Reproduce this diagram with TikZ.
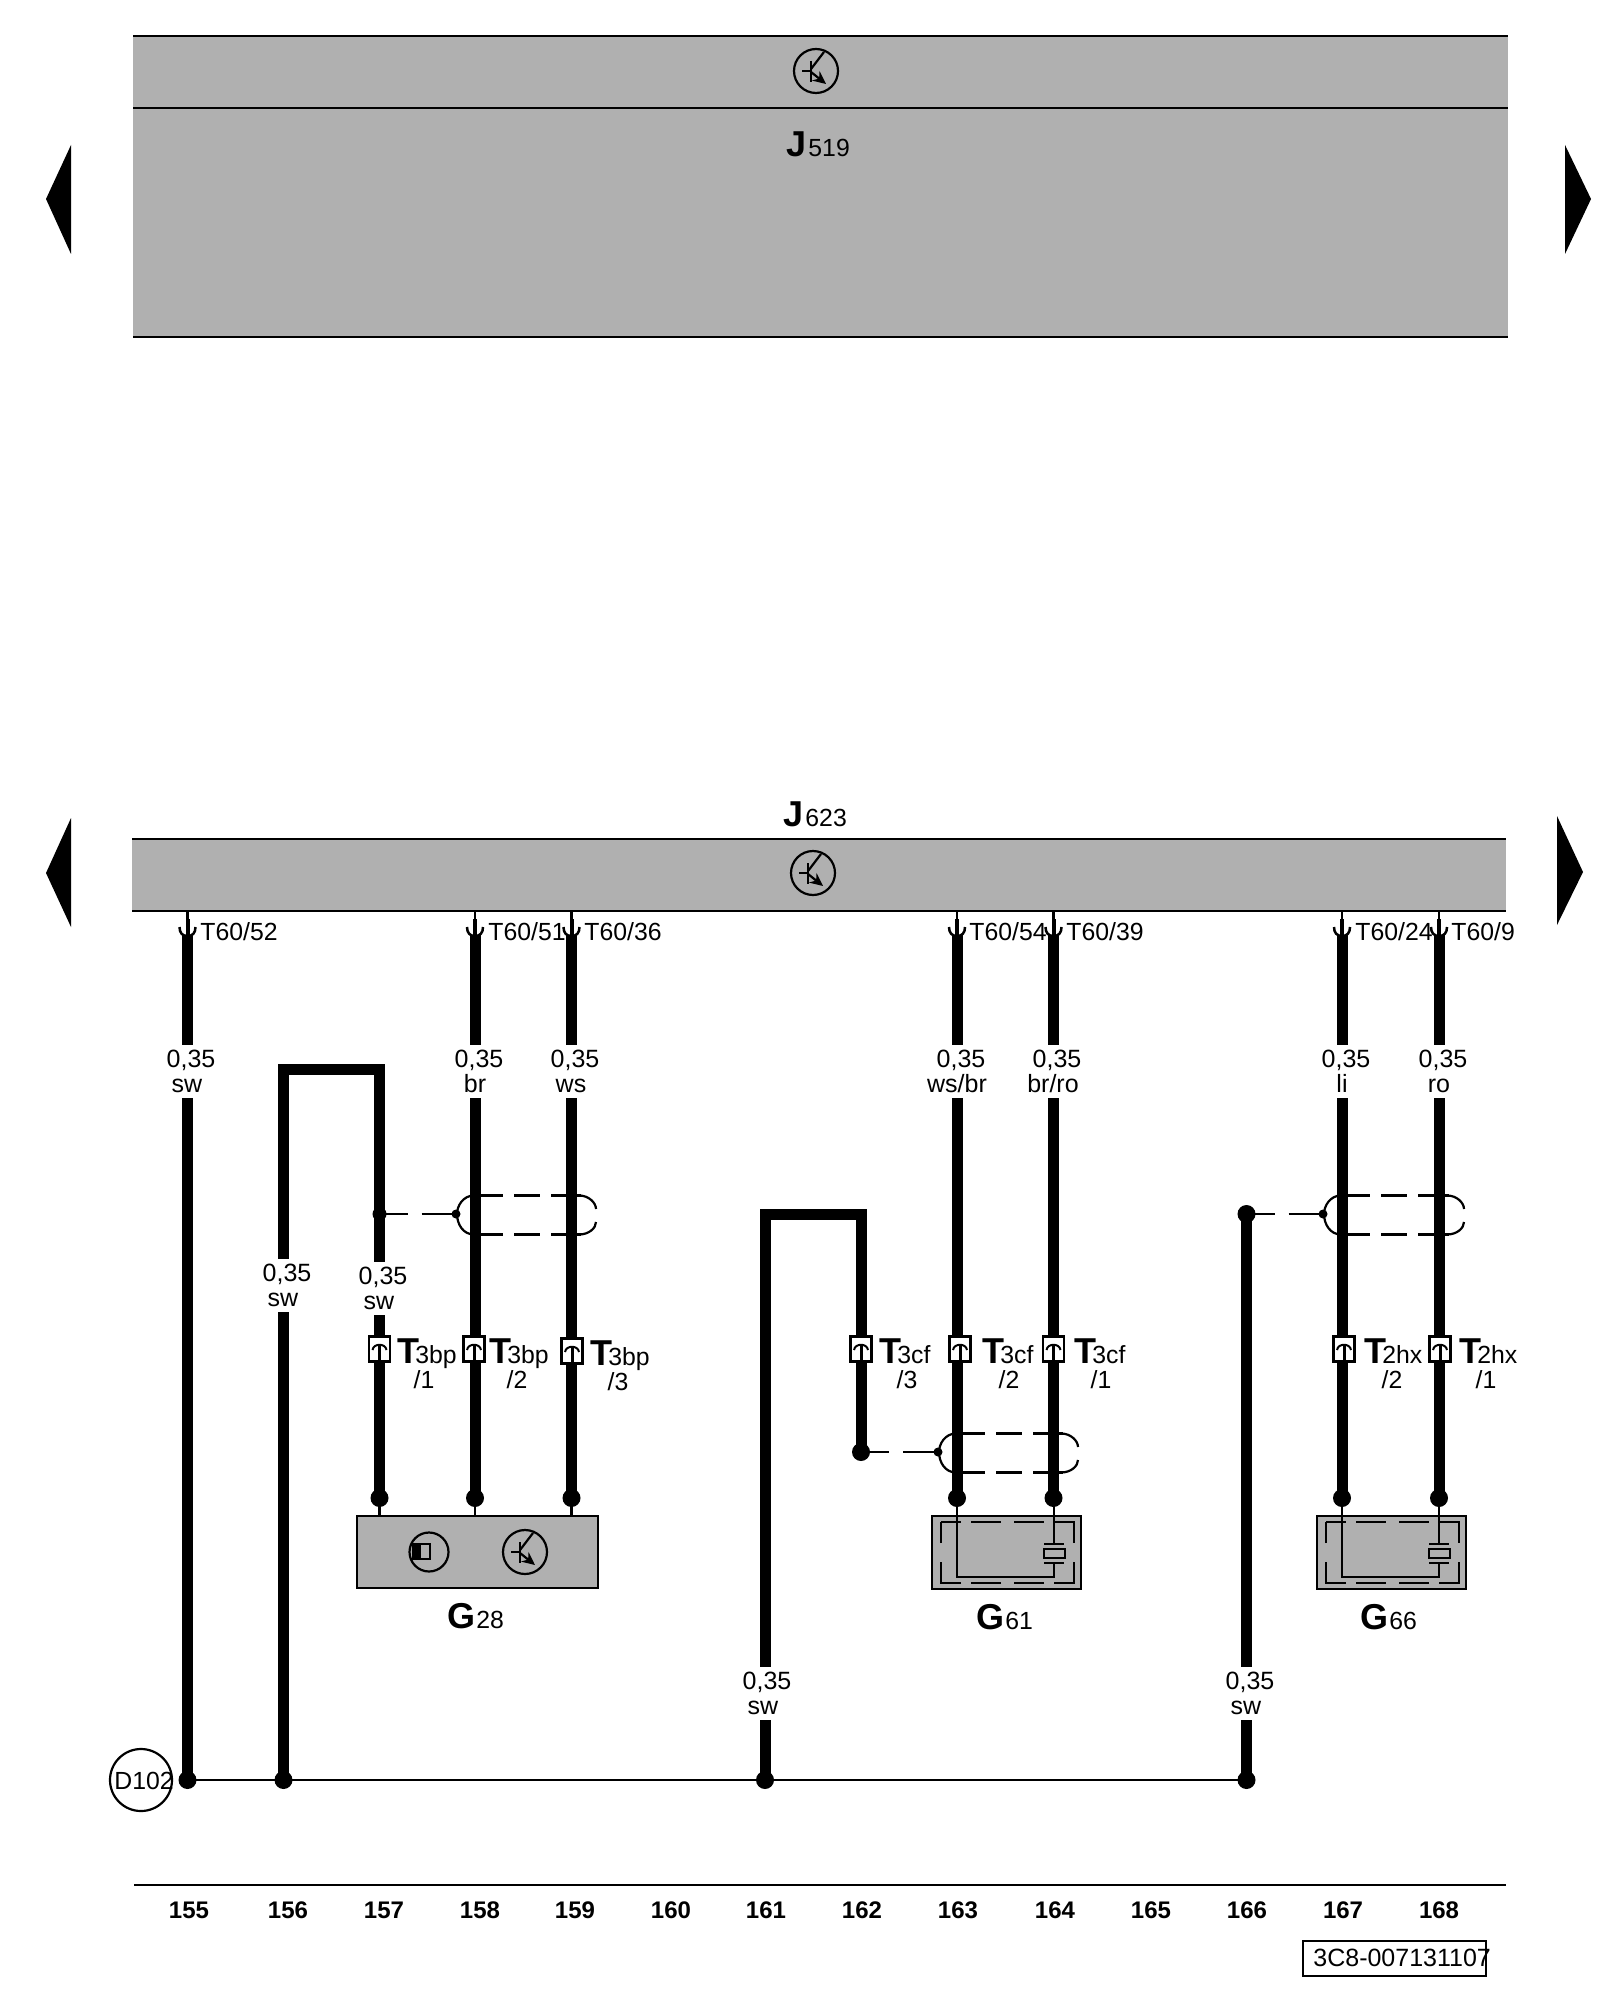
\documentclass[tikz,border=0pt]{standalone}
\usepackage{fontspec}
\setmainfont{Liberation Sans}
\usetikzlibrary{arrows.meta}

\definecolor{boxgray}{HTML}{B0B0B0}

\tikzset{
    wire/.style={line width=5.5pt},
    thinline/.style={line width=1.1pt},
    jdot/.style={circle, fill=black, inner sep=0pt, minimum size=9pt},
    midot/.style={circle, fill=black, inner sep=0pt, minimum size=7pt},
    smalldot/.style={circle, fill=black, inner sep=0pt, minimum size=4.5pt},
    txt/.style={inner sep=0pt, anchor=base, font=\fontsize{12.4}{12.5}\selectfont},
    pintxt/.style={txt, anchor=base west},
    numtxt/.style={txt, font=\fontsize{12}{12.5}\bfseries\selectfont},
    gaplbl/.style={fill=white, inner sep=0pt, minimum height=26.5pt, align=center,
        font=\fontsize{12.5}{12.5}\selectfont},
    sublbl/.style={inner sep=0pt, anchor=base west},
    leader/.style={thinline, dash pattern=on 14pt off 7pt on 17pt off 0pt},
    shieldline/.style={thinline, dash pattern=on 14pt off 5.5pt on 13pt off 5.5pt on 15pt off 0pt},
    pics/socket/.style={code={
        \draw[thinline] (0,0) -- (0,9);
        \draw[line width=2pt] (0,8) -- (0,24);
        \draw[line width=1.25pt] (-8,16) .. controls (-8,22) and (-5,25) .. (0,25) .. controls (5,25) and (8,22) .. (8,16);
    }},
    pics/plug/.style={code={
        \draw[thinline, fill=white] (-10.5,-12.5) rectangle (10.5,12.5);
        \draw[line width=1pt] (-7,1) .. controls (-6,-6) and (6,-6) .. (7,1);
        \draw[line width=1.5pt] (0,12.5) -- (0,-4);
    }},
    pics/transistor/.style={code={
        \draw[thinline] (0,0) circle (22);
        \draw[thinline] (-14,0) -- (-5,0);
        \draw[thinline] (-5,-10) -- (-5,11);
        \draw[thinline] (-5,-2) -- (8,-19);
        \draw[thinline, -{Stealth[length=6.5pt,width=6pt]}] (-5,1) -- (10,13);
    }},
    pics/shield/.style={code={
        \draw[shieldline] (0,-18.5) -- (#1+10,-18.5);
        \draw[shieldline] (0,20.5) -- (#1+10,20.5);
        \draw[thinline] (-1,-18.5) .. controls (-12,-18.5) and (-18,-8) .. (-18,0) .. controls (-18,10) and (-12,20.5) .. (-1,20.5);
        \draw[thinline] (#1+8,-18.5) .. controls (#1+18,-18.5) and (#1+25,-11) .. (#1+25,-5);
        \draw[thinline] (#1+25,8) .. controls (#1+25,14) and (#1+18,20.5) .. (#1+8,20.5);
    }},
    pics/sensor/.style={code={
        \draw[thinline, fill=boxgray] (-25,18) rectangle (124,91);
        \draw[thinline, dash pattern=on 10pt off 5pt on 15pt off 6.5pt on 15pt off 5pt on 20.5pt off 9.5pt on 20.5pt off 5pt on 15pt off 6.5pt on 15pt off 5pt on 20.5pt off 9.5pt on 10.5pt off 0pt]
            (-16,24) -- (117,24) -- (117,85) -- (-16,85) -- cycle;
        \draw[thinline] (0,0) -- (0,79) -- (97,79) -- (97,65);
        \draw[thinline] (97,0) -- (97,46);
        \draw[thinline] (87,46) -- (107,46);
        \draw[thinline] (87,65) -- (107,65);
        \draw[thinline] (87,51) rectangle (108,60);
    }},
}

\newcommand{\biglbl}[3]{{\fontsize{18}{18}\bfseries\selectfont #1}\kern#3{\fontsize{12.4}{12}\selectfont #2}}

\begin{document}
\begin{tikzpicture}[x=0.5pt, y=-0.5pt, >=Stealth]

\useasboundingbox (0,0) rectangle (1600,2000);

% Control units
\fill[boxgray] (133,36) rectangle (1508,337);
\fill[boxgray] (132,839) rectangle (1506,911);
\draw[thinline] (133,36) -- (1508,36);
\draw[thinline] (133,108) -- (1508,108);
\draw[thinline] (133,337) -- (1508,337);
\draw[thinline] (132,839) -- (1506,839);
\draw[thinline] (132,911) -- (1506,911);

\pic at (816,71) {transistor};
\pic at (813,873) {transistor};
\node[sublbl] (lblJ519) at (786,157) {\biglbl{J}{519}{1pt}};
\node[sublbl] (lblJ623) at (783,826) {\biglbl{J}{623}{1pt}};

% Page arrows
\fill (71,145) -- (46,199) -- (71,254) -- cycle;
\fill (1565,145) -- (1591,199) -- (1565,254) -- cycle;
\fill (71,818) -- (46,873) -- (71,927) -- cycle;
\fill (1557,816) -- (1583,872) -- (1557,925) -- cycle;

% Terminal points
\foreach \n/\x in {155/187.5,156/283.5,161/765,166/1246.5} {
    \node[jdot] (b\n) at (\x,1780) {};
}
\foreach \n/\x in {157/379.5,158/475,159/571.5,163/957,164/1053.5,167/1342,168/1439} {
    \node[jdot] (d\n) at (\x,1498) {};
}
\foreach \n/\x in {155/187.5,158/475,159/571.5,163/957,164/1053.5,167/1342,168/1439} {
    \coordinate (t\n) at (\x,935);
}
\node[jdot] (d162) at (861,1452) {};
\node[jdot] (s166) at (1246.5,1214) {};
\coordinate (u156) at (283.5,1069);
\coordinate (u157) at (379.5,1069);
\coordinate (u161) at (765,1214);
\coordinate (u162) at (861,1214);

% Ground bus
\draw[line width=1.25pt] (b155.center) -- (b166.center);
\node[draw, circle, thinline, inner sep=0pt, minimum size=31pt] (d102) at (141,1780) {};
\node[txt] (lblD102) at (144,1789) {D102};

% Wires
\draw[wire] (t155) -- (b155.center);
\draw[wire] (b156.center) -- (u156) -- (u157) -- (d157.center);
\draw[wire] (b161.center) -- (u161) -- (u162) -- (d162.center);
\draw[wire] (b166.center) -- (s166.center);
\foreach \n in {158,159,163,164,167,168} {
    \draw[wire] (t\n) -- (d\n.center);
}
\node[midot] (s157) at (379.5,1214) {};

% Shields
\pic at (475,1214) {shield=96};
\pic at (957,1452) {shield=96};
\pic at (1342,1214) {shield=97};
\node[smalldot] (s1) at (456,1214) {};
\node[smalldot] (s2) at (938,1452) {};
\node[smalldot] (s3) at (1323,1214) {};
\draw[leader] (s157.center) -- (s1.center);
\draw[leader] (d162.center) -- (s2.center);
\draw[leader] (s166.center) -- (s3.center);

% Wire labels
\foreach \n/\x/\y/\c in {155/187/1071/sw,158/475/1071/br,159/571/1071/ws,163/957/1071/{ws/br},164/1053/1071/{br/ro},
    167/1342/1071/li,168/1439/1071/ro,156/283/1285/sw,157/379/1288/sw,161/763/1693/sw,166/1246/1693/sw} {
    \node[gaplbl] (w\n) at (\x,\y) {\hspace*{4pt}0,35\\\c};
}

% Sockets at J623
\foreach \x/\t/\lx in {187.5/T60\slash 52/200,475/T60\slash 51/488,571.5/T60\slash 36/584,957/T60\slash 54/969,
    1053.5/T60\slash 39/1066,1342/T60\slash 24/1355,1439/T60\slash 9/1451} {
    \pic at (\x,911) {socket};
    \node[pintxt] (pin\lx) at (\lx,940) {\t};
}

% Plugs
\foreach \x/\y/\tx/\sx/\t/\p in {379.5/1349/397/424/3bp/1,474/1349/489/517/3bp/2,572/1351/590/618/3bp/3,
    861/1349/879/907/3cf/3,960/1349/982/1009/3cf/2,1053.5/1349/1074/1101/3cf/1,
    1344/1349/1364/1392/2hx/2,1440/1349/1459/1486/2hx/1} {
    \pic at (\x,\y) {plug};
    \node[sublbl] (con\tx) at (\tx,\y+14) {\biglbl{T}{\t}{-2pt}};
    \node[txt] (nr\tx) at (\sx,\y+39) {/\p};
}

% G28
\node[draw, thinline, fill=boxgray, inner sep=0pt, minimum width=120.5pt, minimum height=36pt] (g28) at (477.5,1552) {};
\draw[thinline] (d157.center) -- (d157 |- g28.north);
\draw[thinline] (d158.center) -- (d158 |- g28.north);
\draw[thinline] (d159.center) -- (d159 |- g28.north);
\draw[thinline] (429,1552) circle (19.5);
\fill (413,1544) rectangle (421,1559);
\draw[thinline] (413,1544) rectangle (430,1559);
\pic at (525,1552) {transistor};
\node[sublbl] (lblG28) at (447,1628) {\biglbl{G}{28}{0.5pt}};

% G61, G66
\pic at (957,1498) {sensor};
\pic at (1342,1498) {sensor};
\node[sublbl] (lblG61) at (976,1629) {\biglbl{G}{61}{0.5pt}};
\node[sublbl] (lblG66) at (1360,1629) {\biglbl{G}{66}{0.5pt}};

% Current track numbers
\draw[thinline] (134,1885) -- (1506,1885);
\foreach \n/\x in {155/189,156/288,157/384,158/480,159/575,160/671,161/766,162/862,163/958,164/1055,165/1151,166/1247,167/1343,168/1439} {
    \node[numtxt] (n\n) at (\x,1918) {\n};
}

% Drawing number
\node[draw, thinline, inner sep=0pt, minimum width=91.5pt, minimum height=17.5pt] (ref) at (1394.5,1958.5) {};
\node[pintxt, font=\fontsize{12.5}{13}\selectfont] (reftxt) at (1313,1966) {3C8-007131107};

\end{tikzpicture}
\end{document}
